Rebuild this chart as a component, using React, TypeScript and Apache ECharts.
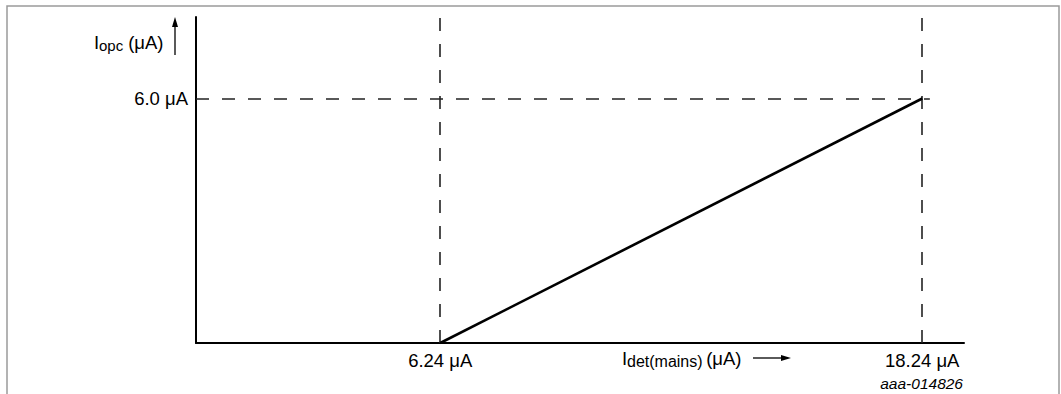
import React, { useEffect, useRef } from "react";
import * as echarts from "echarts";

const xPoints = [6.24, 18.24];
const yPoints = [0, 6.0];
const xTickValues = [6.24, 18.24];
const xTickLabels = ["6.24 μA", "18.24 μA"];
const yTickValues = [6.0];
const yTickLabels = ["6.0 μA"];
const xRange = [0.16, 19.28];
const yRange = [0, 8];
const hRefEnd = 18.43;
const figureId = "aaa-014826";

const FONT = "'Liberation Sans', Arial, Helvetica, sans-serif";
const MAIN = 18.5;
const SUB = 15;

export default function App() {
  const ref = useRef<HTMLDivElement>(null);
  useEffect(() => {
    document.body.style.margin = "0";
    const chart = echarts.init(ref.current!, null, { renderer: "svg" });
    const black = "#000";
    const dash = { color: "#222", width: 1.6, type: [13, 13] as any };
    chart.setOption({
      animation: false,
      backgroundColor: "#fff",
      grid: { left: 196, right: 97, top: 17, bottom: 51, outerBoundsMode: "none", containLabel: false },
      xAxis: {
        type: "value",
        min: xRange[0],
        max: xRange[1],
        axisLine: { show: true, lineStyle: { color: black, width: 2 } },
        axisTick: { show: false },
        splitLine: { show: false },
        axisLabel: {
          customValues: xTickValues,
          formatter: (v: number) => xTickLabels[xTickValues.indexOf(v)] ?? "",
          color: black,
          fontFamily: FONT,
          fontSize: MAIN,
          margin: 8,
        },
      },
      yAxis: {
        type: "value",
        min: yRange[0],
        max: yRange[1],
        axisLine: { show: true, lineStyle: { color: black, width: 2 } },
        axisTick: { show: false },
        splitLine: { show: false },
        axisLabel: {
          customValues: yTickValues,
          formatter: (v: number) => yTickLabels[yTickValues.indexOf(v)] ?? "",
          color: black,
          fontFamily: FONT,
          fontSize: MAIN,
          margin: 8,
        },
      },
      series: [
        {
          type: "line",
          data: xPoints.map((x, i) => [x, yPoints[i]]),
          showSymbol: false,
          symbol: "none",
          lineStyle: { color: black, width: 2.6 },
          z: 5,
          markLine: {
            silent: true,
            symbol: ["none", "none"],
            label: { show: false },
            lineStyle: dash,
            data: [
              { xAxis: xPoints[0] },
              { xAxis: xPoints[1] },
              [{ coord: [xRange[0], yPoints[1]] }, { coord: [hRefEnd, yPoints[1]] }],
            ],
          },
        },
      ],
      graphic: [
        {
          type: "rect",
          shape: { x: 7, y: 6, width: 1052, height: 420 },
          style: { fill: "none", stroke: "#9a9a9a", lineWidth: 1.5 },
          silent: true,
        },
        // y-axis title
        { type: "text", x: 94, y: 42, style: { text: "I", font: `${MAIN}px ${FONT}`, fill: black, verticalAlign: "middle" } },
        { type: "text", x: 99, y: 45, style: { text: "opc", font: `${SUB}px ${FONT}`, fill: black, verticalAlign: "middle" } },
        { type: "text", x: 123, y: 42, style: { text: " (μA)", font: `${MAIN}px ${FONT}`, fill: black, verticalAlign: "middle" } },
        { type: "line", shape: { x1: 175, y1: 55, x2: 175, y2: 25 }, style: { stroke: black, lineWidth: 1.3 } },
        { type: "polygon", shape: { points: [[175, 17], [172, 27], [178, 27]] }, style: { fill: black } },
        // x-axis title
        { type: "text", x: 622, y: 358, style: { text: "I", font: `${MAIN}px ${FONT}`, fill: black, verticalAlign: "middle" } },
        { type: "text", x: 627, y: 361, style: { text: "det(mains)", font: `16px ${FONT}`, fill: black, verticalAlign: "middle" } },
        { type: "text", x: 701, y: 358, style: { text: " (μA)", font: `${MAIN}px ${FONT}`, fill: black, verticalAlign: "middle" } },
        { type: "line", shape: { x1: 753, y1: 358, x2: 782, y2: 358 }, style: { stroke: black, lineWidth: 1.3 } },
        { type: "polygon", shape: { points: [[791, 358], [781, 355], [781, 361]] }, style: { fill: black } },
        // figure id
        { type: "text", x: 963, y: 383, style: { text: figureId, font: `italic 15.5px ${FONT}`, fill: black, align: "right", verticalAlign: "middle" } },
      ],
    });
    return () => chart.dispose();
  }, []);
  return <div ref={ref} style={{ width: 1061, height: 394 }} />;
}
